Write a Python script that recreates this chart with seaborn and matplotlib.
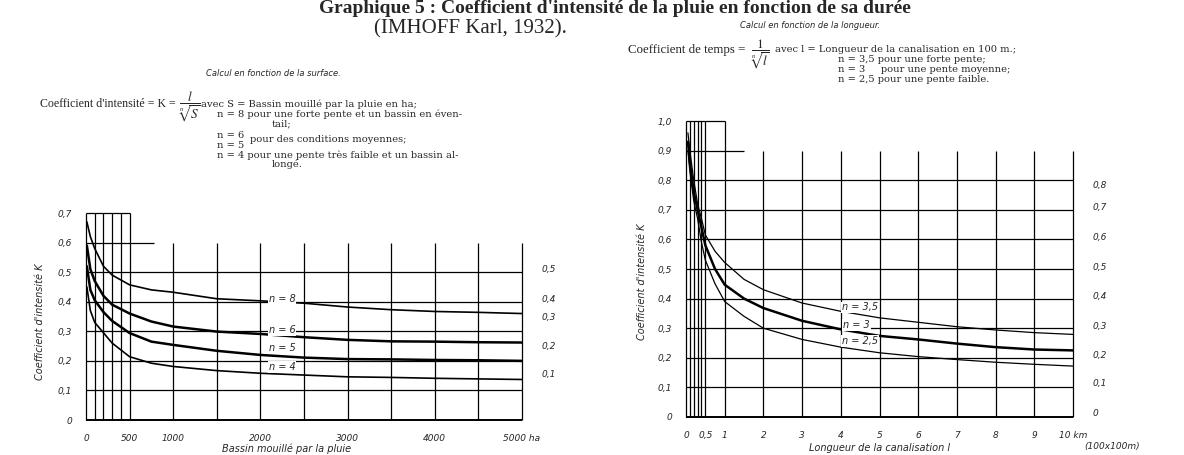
import matplotlib
matplotlib.use("Agg")
import matplotlib.pyplot as plt
import seaborn as sns
import pandas as pd

sns.set_style("white")
plt.rcParams["font.family"] = ["DejaVu Sans"]
plt.rcParams["mathtext.fontset"] = "stix"

# Graphique gauche : K en fonction du bassin mouille S (ha)
surface = [10, 50, 100, 200, 300, 500, 750, 1000, 1500, 2000, 2500, 3000, 3500, 4000, 4500, 5000]
k_n8 = [0.67, 0.62, 0.58, 0.52, 0.49, 0.457, 0.44, 0.432, 0.41, 0.403, 0.395, 0.382, 0.373, 0.367, 0.364, 0.36]
k_n6 = [0.59, 0.51, 0.47, 0.42, 0.39, 0.36, 0.333, 0.316, 0.299, 0.291, 0.28, 0.271, 0.266, 0.265, 0.263, 0.262]
k_n5 = [0.52, 0.44, 0.405, 0.365, 0.335, 0.294, 0.265, 0.254, 0.234, 0.22, 0.211, 0.206, 0.205, 0.203, 0.202, 0.2]
k_n4 = [0.45, 0.37, 0.33, 0.295, 0.26, 0.214, 0.192, 0.181, 0.167, 0.158, 0.152, 0.146, 0.144, 0.141, 0.139, 0.137]

# Graphique droit : K en fonction de la longueur de la canalisation (km)
longueur = [0.05, 0.1, 0.2, 0.3, 0.4, 0.5, 0.75, 1, 1.5, 2, 3, 4, 5, 6, 7, 8, 9, 10]
k_n35 = [0.96, 0.9, 0.8, 0.72, 0.67, 0.615, 0.56, 0.522, 0.465, 0.43, 0.385, 0.357, 0.335, 0.32, 0.305, 0.294, 0.285, 0.279]
k_n3 = [0.93, 0.86, 0.76, 0.7, 0.64, 0.58, 0.5, 0.447, 0.4, 0.368, 0.325, 0.296, 0.274, 0.262, 0.248, 0.236, 0.228, 0.225]
k_n25 = [0.9, 0.83, 0.73, 0.67, 0.59, 0.53, 0.45, 0.39, 0.34, 0.3, 0.262, 0.236, 0.217, 0.204, 0.194, 0.185, 0.178, 0.172]

# ticks / etiquettes
left_xticks = [0, 500, 1000, 2000, 3000, 4000, 5000]
left_xlabels = ["0", "500", "1000", "2000", "3000", "4000", "5000 ha"]
left_yticks = [0, 0.1, 0.2, 0.3, 0.4, 0.5, 0.6, 0.7]
left_ylabels = ["0", "0,1", "0,2", "0,3", "0,4", "0,5", "0,6", "0,7"]
left_rticks = [0.158, 0.251, 0.349, 0.411, 0.513]
left_rlabels = ["0,1", "0,2", "0,3", "0,4", "0,5"]

right_xticks = [0, 0.5, 1, 2, 3, 4, 5, 6, 7, 8, 9, 10]
right_xlabels = ["0", "0,5", "1", "2", "3", "4", "5", "6", "7", "8", "9", "10 km"]
right_yticks = [0, 0.1, 0.2, 0.3, 0.4, 0.5, 0.6, 0.7, 0.8, 0.9, 1.0]
right_ylabels = ["0", "0,1", "0,2", "0,3", "0,4", "0,5", "0,6", "0,7", "0,8", "0,9", "1,0"]
right_rticks = [0.015, 0.115, 0.21, 0.31, 0.41, 0.51, 0.61, 0.71, 0.785]
right_rlabels = ["0", "0,1", "0,2", "0,3", "0,4", "0,5", "0,6", "0,7", "0,8"]

dfL = pd.DataFrame({
    "S": surface * 4,
    "K": k_n8 + k_n6 + k_n5 + k_n4,
    "n": ["8"] * 16 + ["6"] * 16 + ["5"] * 16 + ["4"] * 16,
})
dfR = pd.DataFrame({
    "l": longueur * 3,
    "K": k_n35 + k_n3 + k_n25,
    "n": ["3,5"] * 18 + ["3"] * 18 + ["2,5"] * 18,
})

W, H = 1184, 455
def fx(px):
    return px / W
def fy(py):
    return 1 - py / H

fig = plt.figure(figsize=(11.84, 4.55), dpi=100)
fig.patch.set_facecolor("white")

axL = fig.add_axes([fx(86), fy(420), (522 - 86) / W, (420 - 213) / H])
axR = fig.add_axes([fx(686), fy(417), (1073 - 686) / W, (417 - 121) / H])

gl = dict(color="black", lw=0.9, clip_on=False, zorder=1)

# --- gauche
axL.vlines([0, 100, 200, 300, 400, 500], 0, 0.7, **gl)
axL.vlines([1000, 1500, 2000, 2500, 3000, 3500, 4000, 4500, 5000], 0, 0.6, **gl)
axL.hlines([0.1, 0.2, 0.3, 0.4, 0.5], 0, 5000, **gl)
axL.hlines(0.6, 0, 780, **gl)
axL.hlines(0.7, 0, 500, **gl)
axL.hlines(0, 0, 5000, color="black", lw=1.4, clip_on=False)

sns.lineplot(data=dfL, x="S", y="K", hue="n", size="n",
             palette={"8": "black", "6": "black", "5": "black", "4": "black"},
             sizes={"8": 1.2, "6": 1.8, "5": 1.8, "4": 1.2},
             legend=False, ax=axL, zorder=3)

for txt, xx, yy in [("n = 8", 2250, 0.41), ("n = 6", 2250, 0.304),
                    ("n = 5", 2250, 0.243), ("n = 4", 2250, 0.178)]:
    axL.text(xx, yy, txt, ha="center", va="center", fontsize=7, style="italic",
             bbox=dict(fc="white", ec="none", pad=0.6), zorder=4)

axL.set_xlim(0, 5000)
axL.set_ylim(0, 0.7)
axL.set_xticks(left_xticks, left_xlabels, fontsize=6.5, style="italic")
axL.set_yticks(left_yticks, left_ylabels, fontsize=6.5, style="italic")
axL.tick_params(length=0, pad=10)
axL.set_xlabel("")
axL.set_ylabel("")
for s in axL.spines.values():
    s.set_visible(False)
axL2 = axL.twinx()
axL2.set_ylim(0, 0.7)
axL2.set_yticks(left_rticks, left_rlabels, fontsize=6.5, style="italic")
axL2.tick_params(length=0, pad=14)
for s in axL2.spines.values():
    s.set_visible(False)

# --- droite
axR.vlines([0, 0.1, 0.2, 0.3, 0.4, 0.5, 1], 0, 1.0, **gl)
axR.vlines([2, 3, 4, 5, 6, 7, 8, 9, 10], 0, 0.9, **gl)
axR.hlines([0.1, 0.2, 0.3, 0.4, 0.5, 0.6, 0.7, 0.8], 0, 10, **gl)
axR.hlines(0.9, 0, 1.5, **gl)
axR.hlines(1.0, 0, 1, **gl)
axR.hlines(0, 0, 10, color="black", lw=1.4, clip_on=False)

sns.lineplot(data=dfR, x="l", y="K", hue="n", size="n",
             palette={"3,5": "black", "3": "black", "2,5": "black"},
             sizes={"3,5": 0.9, "3": 1.8, "2,5": 0.9},
             legend=False, ax=axR, zorder=3)

for txt, xx, yy in [("n = 3,5", 4.5, 0.37), ("n = 3", 4.4, 0.31), ("n = 2,5", 4.5, 0.257)]:
    axR.text(xx, yy, txt, ha="center", va="center", fontsize=7, style="italic",
             bbox=dict(fc="white", ec="none", pad=0.6), zorder=4)

axR.set_xlim(0, 10)
axR.set_ylim(0, 1.0)
axR.set_xticks(right_xticks, right_xlabels, fontsize=6.5, style="italic")
axR.set_yticks(right_yticks, right_ylabels, fontsize=6.5, style="italic")
axR.tick_params(length=0, pad=10)
axR.set_xlabel("")
axR.set_ylabel("")
for s in axR.spines.values():
    s.set_visible(False)
axR2 = axR.twinx()
axR2.set_ylim(0, 1.0)
axR2.set_yticks(right_rticks, right_rlabels, fontsize=6.5, style="italic")
axR2.tick_params(length=0, pad=14)
for s in axR2.spines.values():
    s.set_visible(False)

# titres des axes
fig.text(fx(40), fy(322), "Coefficient d'intensité K", rotation=90, ha="center", va="center",
         fontsize=7, style="italic")
fig.text(fx(287), fy(449), "Bassin mouillé par la pluie", ha="center", va="center",
         fontsize=7, style="italic")
fig.text(fx(642), fy(282), "Coefficient d'intensité K", rotation=90, ha="center", va="center",
         fontsize=7, style="italic")
fig.text(fx(880), fy(448), "Longueur de la canalisation l", ha="center", va="center",
         fontsize=7, style="italic")
fig.text(fx(1112), fy(446), "(100x100m)", ha="center", va="center", fontsize=6.5, style="italic")

# titre general
serif = ["Liberation Serif", "DejaVu Serif"]
wide = ["DejaVu Serif"]
fig.text(fx(615), fy(13), "Graphique 5 : Coefficient d'intensité de la pluie en fonction de sa durée",
         ha="center", va="baseline", fontsize=14, fontweight="bold", family=serif)
fig.text(fx(470), fy(33), "(IMHOFF Karl, 1932).", ha="center", va="baseline",
         fontsize=15, family=serif)

# sous-titres
fig.text(fx(273), fy(73), "Calcul en fonction de la surface.", ha="center", va="center",
         fontsize=6, style="italic")
fig.text(fx(810), fy(25), "Calcul en fonction de la longueur.", ha="center", va="center",
         fontsize=6, style="italic")

# formule gauche
fs = 7.1
fig.text(fx(176), fy(104), "Coefficient d'intensité = K =", ha="right", va="center", fontsize=8.6, family=serif)
fig.text(fx(189), fy(107), r"$\dfrac{l}{\sqrt[n]{S}}$", ha="center", va="center", fontsize=9.5)
fig.text(fx(201), fy(104), "avec S = Bassin mouillé par la pluie en ha;", ha="left", va="center",
         fontsize=fs, family=wide)
fig.text(fx(217), fy(114), "n = 8 pour une forte pente et un bassin en éven-", ha="left", va="center",
         fontsize=fs, family=wide)
fig.text(fx(272), fy(123.5), "tail;", ha="left", va="center", fontsize=fs, family=wide)
fig.text(fx(217), fy(135), "n = 6", ha="left", va="center", fontsize=fs, family=wide)
fig.text(fx(217), fy(145), "n = 5", ha="left", va="center", fontsize=fs, family=wide)
fig.text(fx(250), fy(140), "pour des conditions moyennes;", ha="left", va="center", fontsize=fs, family=wide)
fig.text(fx(217), fy(155), "n = 4 pour une pente très faible et un bassin al-", ha="left", va="center",
         fontsize=fs, family=wide)
fig.text(fx(272), fy(164.5), "longé.", ha="left", va="center", fontsize=fs, family=wide)

# formule droite
fig.text(fx(745), fy(50), "Coefficient de temps =", ha="right", va="center", fontsize=9.3, family=serif)
fig.text(fx(760), fy(54), r"$\dfrac{1}{\sqrt[n]{l}}$", ha="center", va="center", fontsize=9.5)
fig.text(fx(775), fy(50), "avec l = Longueur de la canalisation en 100 m.;", ha="left", va="center",
         fontsize=fs, family=wide)
fig.text(fx(838), fy(60), "n = 3,5 pour une forte pente;", ha="left", va="center", fontsize=fs, family=wide)
fig.text(fx(838), fy(70), "n = 3     pour une pente moyenne;", ha="left", va="center", fontsize=fs, family=wide)
fig.text(fx(838), fy(80), "n = 2,5 pour une pente faible.", ha="left", va="center", fontsize=fs, family=wide)

fig.savefig("out.png", dpi=100, facecolor="white")
plt.close("all")
